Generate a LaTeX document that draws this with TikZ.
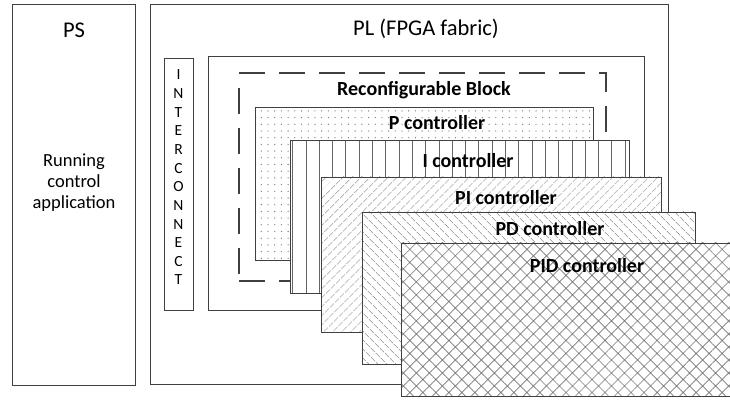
\documentclass[tikz,border=0pt]{standalone}
\usepackage{fontspec}
\setmainfont{Carlito}
\usetikzlibrary{patterns.meta,shadows}
\definecolor{edge}{HTML}{404040}
\definecolor{hatchc}{HTML}{777777}
\begin{document}
\begin{tikzpicture}[x=1pt,y=1pt,
  box/.style={draw=edge, line width=0.9pt, fill=white, inner sep=0pt, outer sep=0pt, anchor=south west},
  shadowed/.style={drop shadow={shadow xshift=1.2pt, shadow yshift=-1.2pt, fill=black!22, opacity=1}},
  patbox/.style={draw=edge, line width=0.9pt, inner sep=0pt, outer sep=0pt, anchor=south west, preaction={fill=white}},
  title/.style={font=\fontsize{22.5}{26}\selectfont, anchor=base, inner sep=0pt},
  lbl/.style={font=\fontsize{20}{23}\selectfont\bfseries, anchor=base, inner sep=0pt},
  dashline/.style={draw=edge, line width=1.1pt, dash pattern=on 26pt off 14pt}
]
\useasboundingbox (0,0) rectangle (730,399);
% PS
\node[box, minimum width=123, minimum height=381] (ps) at (12,14) {};
\node[title] (pslbl) at (74,361) {PS};
\node[font=\fontsize{18.5}{21}\selectfont, align=center, inner sep=0pt] (run) at (74,216) {Running\\control\\application};
% PL
\node[box, shadowed, minimum width=518, minimum height=380] (pl) at (150,15) {};
\node[title] (pllbl) at (426,363) {PL (FPGA fabric)};
% Interconnect
\node[box, shadowed, minimum width=29, minimum height=252] (ic) at (164,89) {};
\node[font=\fontsize{15.5}{18.64}\selectfont, align=center, inner sep=0pt] (iclbl) at (178.5,221.5) {I\\N\\T\\E\\R\\C\\O\\N\\N\\E\\C\\T};
% inner solid box
\node[box, minimum width=436, minimum height=254] (inner) at (208,89) {};
% dashed reconfigurable block
\coordinate (rtl) at (239,326);
\coordinate (rtr) at (606,326);
\coordinate (rbr) at (606,118);
\coordinate (rbl) at (239,118);
\draw[dashline] (rtl) -- (rtr) -- (rbr);
\draw[dashline] ([yshift=-15pt]rtl) -- (rbl);
\draw[dashline] (rbl) -- (rbr);
\node[lbl] (rblbl) at (424,303) {Reconfigurable Block};
% P controller
\node[patbox, minimum width=338, minimum height=153,
  pattern={Dots[distance=6.7pt, radius=0.65pt]}, pattern color=hatchc] (pc) at (255,139) {};
\node[lbl] (pclbl) at (437,269) {P controller};
% I controller
\node[shadowed, patbox, minimum width=339, minimum height=153,
  pattern={Lines[angle=90, distance=13.3pt, line width=0.75pt]}, pattern color=black!60] (icc) at (290,106) {};
\node[lbl] (icclbl) at (468,231) {I controller};
% PI controller
\node[shadowed, patbox, minimum width=340, minimum height=155,
  pattern={Lines[angle=45, distance=6.5pt, line width=0.65pt]}, pattern color=hatchc] (pic) at (321,67) {};
\node[lbl] (piclbl) at (506,194) {PI controller};
% PD controller
\node[shadowed, patbox, minimum width=333, minimum height=152,
  pattern={Lines[angle=-45, distance=6.5pt, line width=0.65pt]}, pattern color=hatchc] (pdc) at (362,35) {};
\node[lbl] (pdclbl) at (550,163) {PD controller};
% PID controller
\node[shadowed, patbox, minimum width=334, minimum height=153,
  pattern={Hatch[angle=45, distance=9.2pt, line width=0.65pt]}, pattern color=hatchc] (pidc) at (401,3) {};
\node[lbl] (pidclbl) at (587,127) {PID controller};
\end{tikzpicture}
\end{document}
